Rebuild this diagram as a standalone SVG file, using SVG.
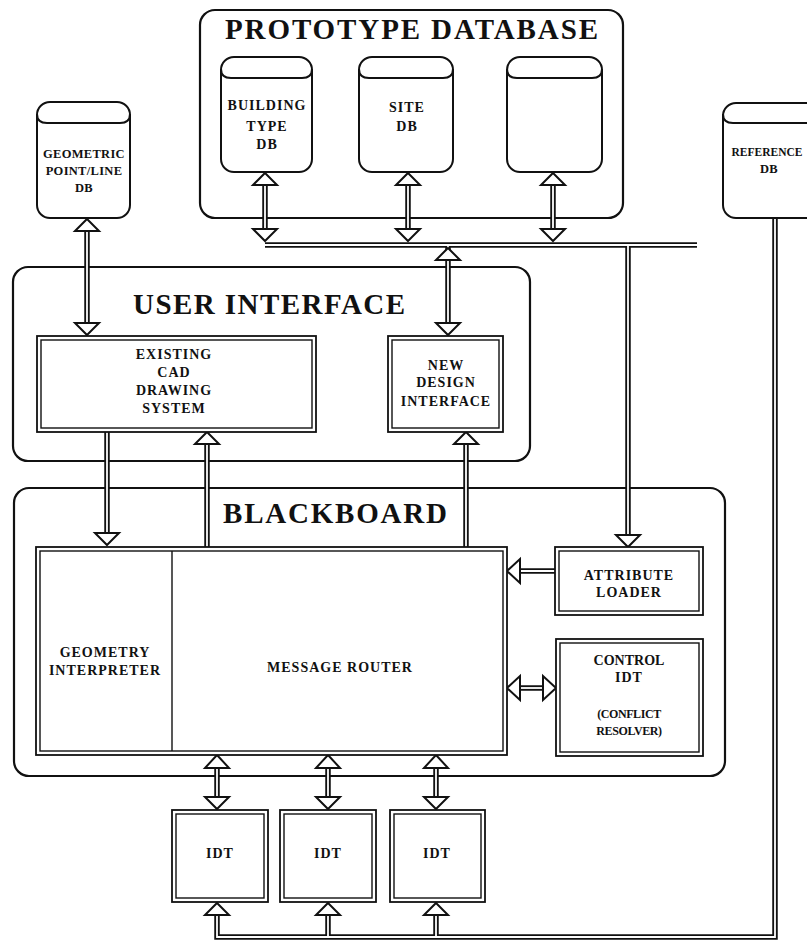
<svg xmlns="http://www.w3.org/2000/svg" width="807" height="940" viewBox="0 0 807 940">
<style>
.cont{fill:none;stroke:#111;stroke-width:2.2}
.cyl{fill:#fff;stroke:#111;stroke-width:2}
.lid{fill:none;stroke:#111;stroke-width:2}
.bo{fill:#fff;stroke:#111;stroke-width:1.8}
.bi{fill:none;stroke:#111;stroke-width:1.4}
.sh{fill:none;stroke:#111;stroke-width:5.5}
.core{fill:none;stroke:#fff;stroke-width:1.8}
.hd{fill:#fff;stroke:#111;stroke-width:2;stroke-linejoin:miter}
.title{font-family:"Liberation Serif",serif;font-weight:bold;font-size:29px;fill:#111;text-anchor:middle}
.lbl{font-family:"Liberation Serif",serif;font-weight:bold;font-size:14px;letter-spacing:1px;fill:#111;text-anchor:middle}
.sm{font-family:"Liberation Serif",serif;font-weight:bold;font-size:12.5px;letter-spacing:0.3px;fill:#111;text-anchor:middle}
.cf{font-family:"Liberation Serif",serif;font-weight:bold;font-size:12px;letter-spacing:-0.4px;fill:#111;text-anchor:middle}
</style>
<rect width="807" height="940" fill="#fff"/>

<!-- containers -->
<g id="prototype-database">
<rect class="cont" x="200" y="10" width="423" height="208" rx="15"/>
<text class="title" x="411.5" y="39" textLength="373" lengthAdjust="spacing">PROTOTYPE DATABASE</text>
</g>
<g id="user-interface">
<rect class="cont" x="13" y="267" width="517" height="194" rx="15"/>
<text class="title" x="269" y="314" textLength="272" lengthAdjust="spacing">USER INTERFACE</text>
</g>
<g id="blackboard">
<rect class="cont" x="14" y="488" width="711" height="288" rx="15"/>
<text class="title" x="335" y="523" textLength="224" lengthAdjust="spacing">BLACKBOARD</text>
</g>

<!-- connectors -->
<g id="connectors">
<g id="shafts-outer" class="sh">
<path d="M265 185V229M408 185V229M553 185V229"/>
<path d="M265 245H697"/>
<path d="M448 245V323"/>
<path d="M87 231V323"/>
<path d="M107 432V533"/>
<path d="M207 547V444"/>
<path d="M466 547V444"/>
<path d="M628 245V535"/>
<path d="M555 571H520"/>
<path d="M520 688H543"/>
<path d="M217 768V797M328 768V797M436 768V797"/>
<path d="M775 218V937H217V915M328 937V915M436 937V915"/>
</g>
<g id="shafts-inner" class="core">
<path d="M265 185V229M408 185V229M553 185V229"/>
<path d="M265 245H697"/>
<path d="M448 245V323"/>
<path d="M87 231V323"/>
<path d="M107 432V533"/>
<path d="M207 547V444"/>
<path d="M466 547V444"/>
<path d="M628 245V535"/>
<path d="M555 571H520"/>
<path d="M520 688H543"/>
<path d="M217 768V797M328 768V797M436 768V797"/>
<path d="M775 218V937H217V915M328 937V915M436 937V915"/>
</g>
<g id="heads" class="hd">
<path d="M265 173L277 185H253Z"/>
<path d="M408 173L420 185H396Z"/>
<path d="M553 173L565 185H541Z"/>
<path d="M265 241L277 229H253Z"/>
<path d="M408 241L420 229H396Z"/>
<path d="M553 241L565 229H541Z"/>
<path d="M448 248L460 260H436Z"/>
<path d="M448 335L460 323H436Z"/>
<path d="M87 219L99 231H75Z"/>
<path d="M87 335L99 323H75Z"/>
<path d="M107 545L119 533H95Z"/>
<path d="M207 432L219 444H195Z"/>
<path d="M466 432L478 444H454Z"/>
<path d="M628 547L640 535H616Z"/>
<path d="M507 571L520 559V583Z"/>
<path d="M507 688L520 676V700Z"/>
<path d="M556 688L543 676V700Z"/>
<path d="M217 755L229 768H205Z"/>
<path d="M328 755L340 768H316Z"/>
<path d="M436 755L448 768H424Z"/>
<path d="M217 809L229 797H205Z"/>
<path d="M328 809L340 797H316Z"/>
<path d="M436 809L448 797H424Z"/>
<path d="M217 903L229 915H205Z"/>
<path d="M328 903L340 915H316Z"/>
<path d="M436 903L448 915H424Z"/>
</g>
</g>

<!-- databases -->
<g id="building-type-db">
<rect class="cyl" x="221" y="57" width="91" height="115" rx="13"/>
<path class="lid" d="M221 69Q221 78 231 78H302Q312 78 312 69"/>
<text class="lbl" x="267" y="110">BUILDING</text>
<text class="lbl" x="267" y="131">TYPE</text>
<text class="lbl" x="267" y="149">DB</text>
</g>
<g id="site-db">
<rect class="cyl" x="359" y="57" width="94" height="115" rx="13"/>
<path class="lid" d="M359 69Q359 78 369 78H443Q453 78 453 69"/>
<text class="lbl" x="407" y="112">SITE</text>
<text class="lbl" x="407" y="131">DB</text>
</g>
<g id="empty-db">
<rect class="cyl" x="507" y="57" width="95" height="115" rx="13"/>
<path class="lid" d="M507 69Q507 78 517 78H592Q602 78 602 69"/>
</g>
<g id="geometric-db">
<rect class="cyl" x="37" y="102" width="93" height="116" rx="13"/>
<path class="lid" d="M37 114Q37 123 47 123H120Q130 123 130 114"/>
<text class="sm" x="84" y="158">GEOMETRIC</text>
<text class="sm" x="84" y="175">POINT/LINE</text>
<text class="sm" x="84" y="192">DB</text>
</g>
<g id="reference-db">
<rect class="cyl" x="723" y="103" width="96" height="115" rx="13"/>
<path class="lid" d="M723 114Q723 123 733 123H809Q819 123 819 114"/>
<text class="sm" x="767" y="156" style="font-size:11.5px;letter-spacing:0">REFERENCE</text>
<text class="sm" x="769" y="173">DB</text>
</g>

<!-- user interface boxes -->
<g id="existing-cad">
<rect class="bo" x="37" y="336" width="279" height="96"/>
<rect class="bi" x="41" y="340" width="271" height="88"/>
<text class="lbl" x="174" y="359">EXISTING</text>
<text class="lbl" x="174" y="377">CAD</text>
<text class="lbl" x="174" y="395">DRAWING</text>
<text class="lbl" x="174" y="413">SYSTEM</text>
</g>
<g id="new-design-interface">
<rect class="bo" x="388" y="336" width="115" height="96"/>
<rect class="bi" x="392" y="340" width="107" height="88"/>
<text class="lbl" x="446" y="370">NEW</text>
<text class="lbl" x="446" y="387">DESIGN</text>
<text class="lbl" x="446" y="406">INTERFACE</text>
</g>

<!-- blackboard boxes -->
<g id="message-router">
<rect class="bo" x="36" y="547" width="471" height="208"/>
<rect class="bi" x="40" y="551" width="463" height="200"/>
<path class="bi" d="M172 551V751"/>
<text class="lbl" x="340" y="672">MESSAGE ROUTER</text>
</g>
<g id="geometry-interpreter">
<text class="lbl" x="105" y="657">GEOMETRY</text>
<text class="lbl" x="105" y="675">INTERPRETER</text>
</g>
<g id="attribute-loader">
<rect class="bo" x="555" y="547" width="148" height="68"/>
<rect class="bi" x="559" y="551" width="140" height="60"/>
<text class="lbl" x="629" y="580">ATTRIBUTE</text>
<text class="lbl" x="629" y="597">LOADER</text>
</g>
<g id="control-idt">
<rect class="bo" x="556" y="639" width="147" height="117"/>
<rect class="bi" x="560" y="643" width="139" height="109"/>
<text class="lbl" x="629" y="665" style="letter-spacing:0">CONTROL</text>
<text class="lbl" x="629" y="682">IDT</text>
<text class="cf" x="629" y="718">(CONFLICT</text>
<text class="cf" x="629" y="735">RESOLVER)</text>
</g>

<!-- IDTs -->
<g id="idt-1">
<rect class="bo" x="172" y="810" width="96" height="92"/>
<rect class="bi" x="176" y="814" width="88" height="84"/>
<text class="lbl" x="220" y="858">IDT</text>
</g>
<g id="idt-2">
<rect class="bo" x="280" y="810" width="96" height="92"/>
<rect class="bi" x="284" y="814" width="88" height="84"/>
<text class="lbl" x="328" y="858">IDT</text>
</g>
<g id="idt-3">
<rect class="bo" x="390" y="810" width="95" height="92"/>
<rect class="bi" x="394" y="814" width="87" height="84"/>
<text class="lbl" x="437" y="858">IDT</text>
</g>
</svg>
